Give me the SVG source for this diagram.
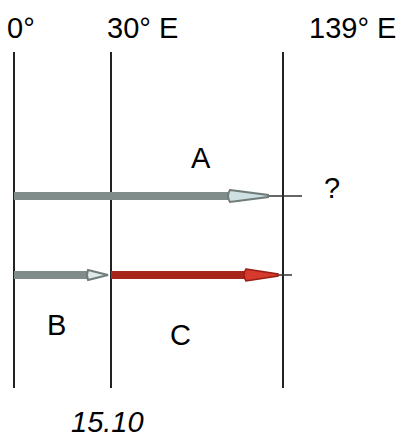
<svg xmlns="http://www.w3.org/2000/svg" width="407" height="437" viewBox="0 0 407 437">
<style>
text{font-family:"Liberation Sans",Arial,sans-serif;fill:#000;font-size:29px}
.grid{stroke:#222;stroke-width:2;fill:none}
.gray{stroke:#7f8c8a;stroke-width:8;fill:none}
.red{stroke:#a8251c;stroke-width:8;fill:none}
.tip{stroke:#333;stroke-width:1.5}
</style>
<rect width="407" height="437" fill="#fff"/>
<g id="labels">
<text x="7" y="38">0°</text>
<text x="107" y="38">30° E</text>
<text x="309" y="38">139° E</text>
</g>
<g id="meridians">
<line class="grid" x1="14" y1="52" x2="14" y2="388"/>
<line class="grid" x1="111" y1="52" x2="111" y2="388"/>
<line class="grid" x1="283" y1="52" x2="283" y2="388"/>
</g>
<g id="connectors">
<g id="arrowA">
<line class="gray" x1="14" y1="196" x2="232" y2="196"/>
<line class="tip" x1="262" y1="196" x2="302" y2="196"/>
<path d="M230,190 L268,195 L268,197 L230,202 Q226,196 230,190 Z" fill="#cfe0e2" stroke="#6f7c7a" stroke-width="2"/>
</g>
<g id="arrowB">
<line class="gray" x1="14" y1="275" x2="90" y2="275"/>
<path d="M88,270 L108,275 L88,280 Q86,275 88,270 Z" fill="#dfe9ea" stroke="#6f7c7a" stroke-width="2"/>
</g>
<g id="arrowC">
<line class="red" x1="111" y1="275" x2="248" y2="275"/>
<line class="tip" x1="270" y1="275" x2="292" y2="275"/>
<path d="M246,269 L278,274 L278,276 L246,281 Q242,275 246,269 Z" fill="#d53a2c" stroke="#9a1e16" stroke-width="1.5"/>
</g>
</g>
<g id="regionA"><text x="191" y="168">A</text></g>
<g id="question"><text x="324" y="198">?</text></g>
<g id="regionB"><text x="47" y="335">B</text></g>
<g id="regionC"><text x="170" y="345">C</text></g>
<g id="date"><text x="71" y="432" font-style="italic">15.10</text></g>
</svg>
